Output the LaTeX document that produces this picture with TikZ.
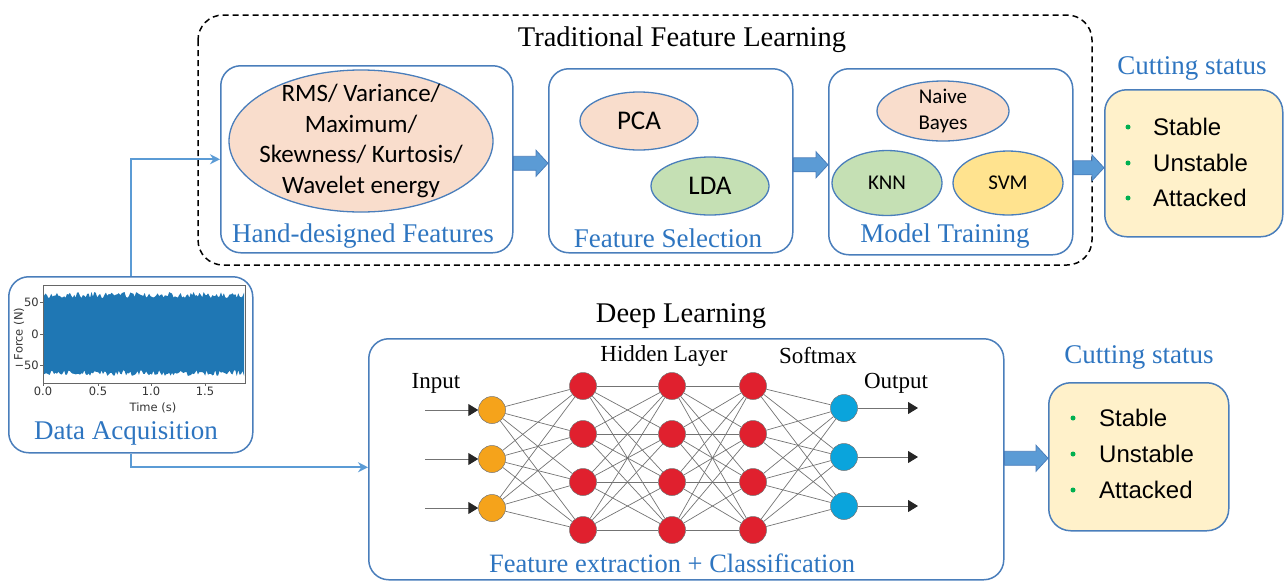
\documentclass[tikz,border=0pt]{standalone}
\usepackage{fontspec}
\setmainfont{Liberation Serif}
\newfontfamily\calfont{Carlito}
\newfontfamily\arialfont{Liberation Sans}
\newfontfamily\plotfont{DejaVu Sans}
\usetikzlibrary{shapes.geometric, arrows.meta, calc}

\definecolor{panelblue}{HTML}{4A7EBB}
\definecolor{labelblue}{HTML}{2E75C0}
\definecolor{linkblue}{HTML}{5B9BD5}
\definecolor{arrowfill}{HTML}{5B9BD5}
\definecolor{peach}{HTML}{F9DDCC}
\definecolor{leaf}{HTML}{C5E0B4}
\definecolor{butter}{HTML}{FFE38F}
\definecolor{cream}{HTML}{FFF1CA}
\definecolor{bulletgreen}{HTML}{00B050}
\definecolor{sigblue}{HTML}{1F77B4}
\definecolor{nnorange}{HTML}{F5A31B}
\definecolor{nnred}{HTML}{E0202E}
\definecolor{nncyan}{HTML}{0AA4DC}

\tikzset{
  panel/.style={draw=panelblue, line width=1.5pt, rounded corners=20pt, inner sep=0pt, anchor=north west},
  statusbox/.style={panel, fill=cream, rounded corners=22pt},
  oval/.style={ellipse, draw=panelblue, line width=1.3pt, inner sep=0pt},
  ovaltext/.style={align=center, inner sep=0pt},
  bluelabel/.style={text=labelblue, font=\fontsize{27}{30}\selectfont},
  headline/.style={font=\fontsize{28.5}{32}\selectfont},
  layerlabel/.style={font=\fontsize{23}{26}\selectfont},
  item/.style={anchor=west, font=\arialfont\fontsize{24}{28}\selectfont, inner sep=0pt},
  dot/.style={circle, fill=bulletgreen, minimum size=5pt, inner sep=0pt},
  conn/.style={draw=linkblue, line width=2pt, -{Stealth[length=10pt,width=10pt]}},
  barrow/.style={fill=arrowfill, draw=panelblue, line width=0.8pt},
  nnedge/.style={draw=black!55, line width=0.7pt},
  neuron/.style={circle, draw=black!55, line width=0.5pt, minimum size=27pt, inner sep=0pt},
  ioarrow/.style={draw=black!55, line width=1pt, -{Triangle[length=10pt,width=12pt,color=black!85]}},
  plottext/.style={font=\plotfont\fontsize{11.5}{13}\selectfont, text=black!80, inner sep=1pt},
}

% wide block arrow drawn between two anchors (height taken from the first)
\newcommand\blockarrow[2]{%
  \path[barrow] let \p1=(#1), \p2=(#2) in
    (\x1,\y1+7pt) -- (\x2-12pt,\y1+7pt) -- (\x2-12pt,\y1+13pt) -- (\x2,\y1)
    -- (\x2-12pt,\y1-13pt) -- (\x2-12pt,\y1-7pt) -- (\x1,\y1-7pt) -- cycle;}

\begin{document}
\begin{tikzpicture}[x=1pt, y=-1pt]
\useasboundingbox (0,0) rectangle (1284,582);

% ---------- traditional pipeline ----------
\draw[dash pattern=on 6pt off 4pt, line width=1.5pt, rounded corners=25pt] (198,15) rectangle (1092,265);
\node[headline] (tradtitle) at (682,40) {Traditional Feature Learning};

\node[panel, minimum width=292pt, minimum height=187pt] (hand) at (220,65) {};
\node[oval, fill=peach, minimum width=264pt, minimum height=142pt] (stats) at (361,141) {};
\node[ovaltext, font=\calfont\fontsize{25}{30.5}\selectfont] (statstext) at (stats)
      {RMS/ Variance/\\Maximum/\\Skewness/ Kurtosis/\\Wavelet energy};
\node[bluelabel] (handlbl) at (363,236) {Hand-designed Features};

\node[panel, minimum width=244pt, minimum height=184pt] (fsel) at (548,68) {};
\node[oval, fill=peach, minimum width=118pt, minimum height=58pt,
      font=\calfont\fontsize{27}{30}\selectfont] (pca) at (639,121) {PCA};
\node[oval, fill=leaf, minimum width=118pt, minimum height=58pt,
      font=\calfont\fontsize{27}{30}\selectfont] (lda) at (710,186) {LDA};
\node[bluelabel] (fsellbl) at (668,238) {Feature Selection};

\node[panel, minimum width=244pt, minimum height=186pt] (model) at (828,68) {};
\node[oval, fill=peach, minimum width=132pt, minimum height=60pt] (nb) at (943,111) {};
\node[ovaltext, font=\calfont\fontsize{21}{26}\selectfont] (nbtext) at (nb) {Naive\\Bayes};
\node[oval, fill=leaf, minimum width=110pt, minimum height=65pt,
      font=\calfont\fontsize{21}{24}\selectfont] (knn) at (887,183) {KNN};
\node[oval, fill=butter, minimum width=110pt, minimum height=64pt,
      font=\calfont\fontsize{21}{24}\selectfont] (svm) at (1008,183) {SVM};
\node[bluelabel] (modellbl) at (945,236) {Model Training};

\node[bluelabel] (cut1lbl) at (1192,68) {Cutting status};
\node[statusbox, minimum width=178pt, minimum height=147pt] (cut1) at (1104,89) {};
\foreach \t/\yy [count=\k] in {Stable/127, Unstable/163, Attacked/198} {
  \node[dot] (cut1d\k) at (1128,\yy) {};
  \node[item] (cut1t\k) at (1153,\yy) {\t};
}

\blockarrow{[yshift=-4pt]hand.east}{fsel.west}
\blockarrow{[yshift=-4pt]fsel.east}{model.west}
\blockarrow{[yshift=-6pt]model.east}{cut1.west}

% ---------- data acquisition ----------
\node[panel, minimum width=244pt, minimum height=176pt] (daq) at (8,276) {};
\pgfmathsetseed{7}
\fill[sigblue] plot[domain=44:244, samples=140] (\x,{295+3*rand})
  -- plot[domain=244:44, samples=140] (\x,{373+3*rand}) -- cycle;
\draw[black!60, line width=0.7pt] (43,285) rectangle (245,383);
\foreach \v/\yy in {50/302, 0/334, −50/365} {
  \draw[black!60, line width=0.6pt] (43,\yy) -- (40,\yy);
  \node[plottext, anchor=east] at (40,\yy) {\v};
}
\foreach \v/\xx in {0.0/43, 0.5/98, 1.0/151, 1.5/205} {
  \draw[black!60, line width=0.6pt] (\xx,383) -- (\xx,386);
  \node[plottext, anchor=north] at (\xx,386) {\v};
}
\node[plottext] (xlab) at (153,408) {Time (s)};
\node[plottext, rotate=90] (ylab) at (19,334) {Force (N)};
\node[bluelabel] (daqlbl) at (126,433) {Data Acquisition};

\draw[conn] (daq.north) |- (hand.west);

% ---------- deep learning ----------
\node[headline] (deeptitle) at (681,316) {Deep Learning};
\node[panel, minimum width=635pt, minimum height=241pt] (deep) at (368,338) {};
\draw[conn] (daq.south) |- ([yshift=-8pt]deep.west);

\foreach \k/\yy in {1/410, 2/459, 3/508}
  \node[neuron, fill=nnorange] (i\k) at (492,\yy) {};
\foreach \k/\yy in {1/386, 2/434, 3/482, 4/530} {
  \node[neuron, fill=nnred] (a\k) at (583,\yy) {};
  \node[neuron, fill=nnred] (b\k) at (672,\yy) {};
  \node[neuron, fill=nnred] (c\k) at (753,\yy) {};
}
\foreach \k/\yy in {1/408, 2/457, 3/506}
  \node[neuron, fill=nncyan] (o\k) at (844,\yy) {};

\foreach \p in {1,2,3} \foreach \q in {1,...,4} \draw[nnedge] (i\p) -- (a\q);
\foreach \p in {1,...,4} \foreach \q in {1,...,4} {
  \draw[nnedge] (a\p) -- (b\q);
  \draw[nnedge] (b\p) -- (c\q);
}
\foreach \p in {1,...,4} \foreach \q in {1,2,3} \draw[nnedge] (c\p) -- (o\q);

\foreach \k/\yy in {1/410, 2/459, 3/508} {
  \coordinate (src\k) at (425,\yy);
  \draw[ioarrow] (src\k) -- (i\k);
}
\foreach \k/\yy in {1/408, 2/457, 3/506} {
  \coordinate (dst\k) at (918,\yy);
  \draw[ioarrow] (o\k) -- (dst\k);
}

\node[layerlabel] (inlbl) at (436,383) {Input};
\node[layerlabel] (hidlbl) at (664,356) {Hidden Layer};
\node[layerlabel] (smlbl) at (818,356) {Softmax};
\node[layerlabel] (outlbl) at (896,383) {Output};
\node[bluelabel, font=\fontsize{26.5}{30}\selectfont] (deeplbl) at (672,563) {Feature extraction + Classification};

\node[bluelabel] (cut2lbl) at (1139,357) {Cutting status};
\node[statusbox, minimum width=180pt, minimum height=148pt] (cut2) at (1048,382) {};
\foreach \t/\yy [count=\k] in {Stable/418, Unstable/454, Attacked/490} {
  \node[dot] (cut2d\k) at (1073,\yy) {};
  \node[item] (cut2t\k) at (1099,\yy) {\t};
}

\blockarrow{[yshift=1pt]deep.east}{cut2.west}
\end{tikzpicture}
\end{document}
